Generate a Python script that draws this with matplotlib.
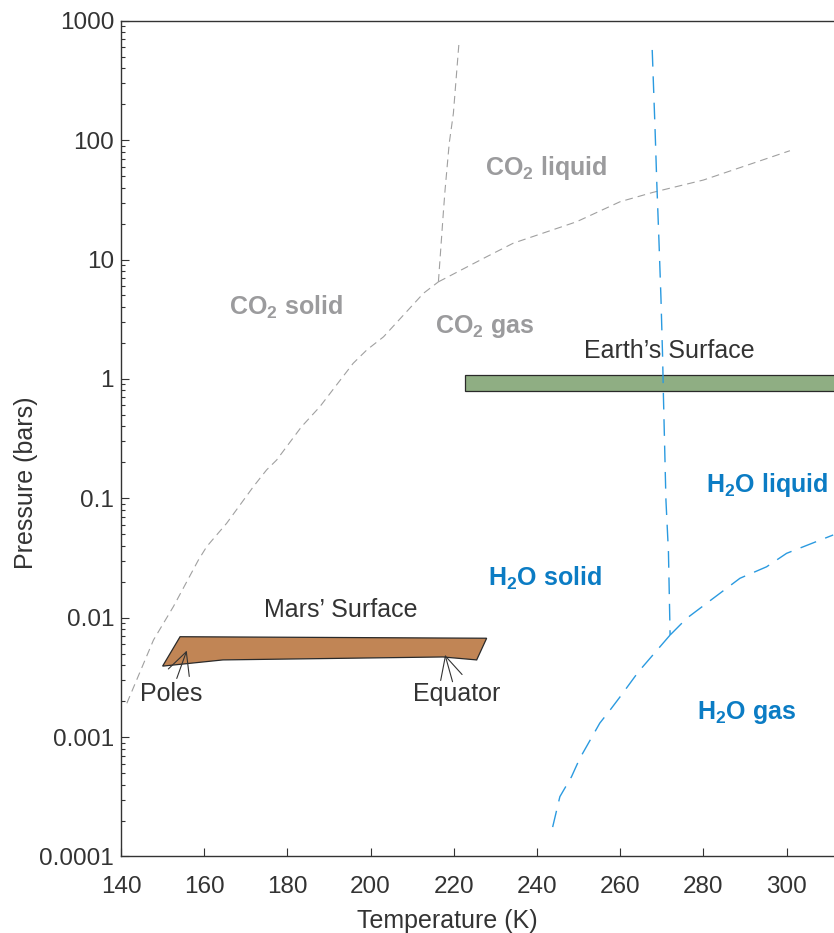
import numpy as np
import matplotlib.pyplot as plt
from matplotlib.patches import Polygon, Rectangle
from matplotlib.ticker import LogLocator, FixedLocator, FuncFormatter, NullFormatter

plt.rcParams["font.family"] = ["Liberation Sans", "DejaVu Sans"]
plt.rcParams["mathtext.fontset"] = "custom"
plt.rcParams["mathtext.rm"] = "Liberation Sans"
plt.rcParams["mathtext.bf"] = "Liberation Sans:bold"

# CO2 phase boundaries (temperature K, pressure bar)
co2_sub_T = [141.4, 147.8, 152.6, 158.6, 160.6, 165.4, 171.8, 175.0, 177.4,
             183.4, 187.8, 195.8, 199.1, 203.1, 212.7, 216.3]
co2_sub_P = [0.00192, 0.0065, 0.0124, 0.0304, 0.0394, 0.0618, 0.125, 0.173, 0.209,
             0.398, 0.585, 1.35, 1.75, 2.25, 5.21, 6.5]
co2_vap_T = [216.3, 227.9, 234.3, 249.5, 260.0, 268.0, 280.0, 300.8]
co2_vap_P = [6.5, 10.55, 13.7, 20.7, 30.5, 36.6, 46.3, 81.5]
co2_melt_T = [216.3, 217.5, 217.9, 218.9, 219.9, 221.3]
co2_melt_P = [6.5, 25.1, 38.2, 94.0, 167.5, 689]

# H2O phase boundaries
h2o_melt_T = [267.7, 268.4, 268.8, 269.3, 269.8, 270.2, 270.4, 271.0, 271.6, 272.0]
h2o_melt_P = [569, 118.6, 43.8, 15.0, 4.77, 1.51, 0.705, 0.0962, 0.0356, 0.00716]
h2o_vap_T = [272.0, 276.0, 282.4, 288.8, 295.2, 300.0, 311.2]
h2o_vap_P = [0.00716, 0.00989, 0.01456, 0.0214, 0.0267, 0.0346, 0.0493]
h2o_sub_T = [272.0, 264.4, 260.0, 257.6, 255.1, 250.3, 248.3, 245.5, 243.4]
h2o_sub_P = [0.00716, 0.00353, 0.00218, 0.00169, 0.00131, 0.000664, 0.000466,
             0.000317, 0.000156]

# Surface conditions
mars_T = [154.2, 227.9, 225.5, 217.4, 164.5, 150.0]
mars_P = [0.00693, 0.00673, 0.00443, 0.00469, 0.00443, 0.00393]
earth_T = [222.7, 320.0]
earth_P = [0.79, 1.07]

y_ticks = [1e-4, 1e-3, 1e-2, 1e-1, 1, 10, 100, 1000]
x_ticks = [140, 160, 180, 200, 220, 240, 260, 280, 300]

dark = "#333333"
grey = "#a0a0a0"
grey_txt = "#9b9b9d"
blue = "#2a9ae0"
blue_txt = "#0b7cc4"

fig = plt.figure(figsize=(8.34, 9.33), dpi=100)
ax = fig.add_axes([0.1451, 0.0820, 0.8549, 0.8958])
ax.set_yscale("log")
ax.set_xlim(140, 311.4)
ax.set_ylim(1e-4, 1000)

gkw = dict(color=grey, lw=0.8, dashes=(7, 4.5))
ax.plot(co2_sub_T, co2_sub_P, **gkw)
ax.plot(co2_vap_T, co2_vap_P, **gkw)
ax.plot(co2_melt_T, co2_melt_P, **gkw)

bkw = dict(color=blue, lw=1.0, dashes=(12, 7))
ax.plot(h2o_melt_T, h2o_melt_P, **bkw)
ax.plot(h2o_vap_T, h2o_vap_P, **bkw)
ax.plot(h2o_sub_T, h2o_sub_P, **bkw)

ax.add_patch(Rectangle((earth_T[0], earth_P[0]), earth_T[1] - earth_T[0],
                       earth_P[1] - earth_P[0], facecolor="#8fae83",
                       edgecolor="#2a2a2a", lw=0.9, zorder=1))
ax.add_patch(Polygon(np.column_stack([mars_T, mars_P]), closed=True,
                     facecolor="#c18555", edgecolor="#2a2a2a", lw=0.9, zorder=1))

# region labels
lab = dict(fontsize=18, fontweight="bold", ha="center", va="center")
ax.text(179.7, 3.94, r"CO$_{\mathbf{2}}$ solid", color=grey_txt, **lab)
ax.text(227.3, 2.74, r"CO$_{\mathbf{2}}$ gas", color=grey_txt, **lab)
ax.text(242.3, 58.7, r"CO$_{\mathbf{2}}$ liquid", color=grey_txt, **lab)
ax.text(295.4, 0.13, r"H$_{\mathbf{2}}$O liquid", color=blue_txt, **lab)
ax.text(242.0, 0.0212, r"H$_{\mathbf{2}}$O solid", color=blue_txt, **lab)
ax.text(290.4, 0.0016, r"H$_{\mathbf{2}}$O gas", color=blue_txt, **lab)

ax.text(271.9, 1.72, "Earth\u2019s Surface", fontsize=18, color=dark,
        ha="center", va="center")
ax.text(192.9, 0.0115, "Mars\u2019 Surface", fontsize=18, color=dark,
        ha="center", va="center")

arrow = dict(arrowstyle="->,head_length=0.8,head_width=0.4", color=dark,
             lw=0.8, shrinkA=0, shrinkB=0, mutation_scale=20)
ax.annotate("", xy=(155.8, 0.0053), xytext=(153.4, 0.0031), arrowprops=arrow)
ax.annotate("", xy=(217.9, 0.00488), xytext=(219.7, 0.00291), arrowprops=arrow)
ax.text(152.1, 0.0023, "Poles", fontsize=18, color=dark, ha="center", va="center")
ax.text(220.6, 0.0023, "Equator", fontsize=18, color=dark, ha="center", va="center")

# axes styling
ax.xaxis.set_major_locator(FixedLocator(x_ticks))
ax.yaxis.set_major_locator(FixedLocator(y_ticks))
ax.yaxis.set_major_formatter(FuncFormatter(lambda v, p: "%g" % v))
ax.yaxis.set_minor_locator(LogLocator(base=10, subs=np.arange(2, 10)))
ax.yaxis.set_minor_formatter(NullFormatter())
ax.tick_params(which="both", direction="in", colors=dark, labelsize=17.5,
               top=False, right=False)
ax.tick_params(which="major", length=5.5, width=0.8)
ax.tick_params(which="minor", length=3, width=0.8)
ax.tick_params(axis="x", pad=14)
ax.tick_params(axis="y", pad=5)
for side in ["left", "bottom", "top"]:
    ax.spines[side].set_color(dark)
    ax.spines[side].set_linewidth(1.0)
ax.spines["right"].set_visible(False)

ax.set_xlabel("Temperature (K)", fontsize=18, color=dark)
ax.set_ylabel("Pressure (bars)", fontsize=18, color=dark)
ax.xaxis.set_label_coords(0.457, -0.063)
ax.yaxis.set_label_coords(-0.117, 0.447)

fig.savefig("out.png", dpi=100)
